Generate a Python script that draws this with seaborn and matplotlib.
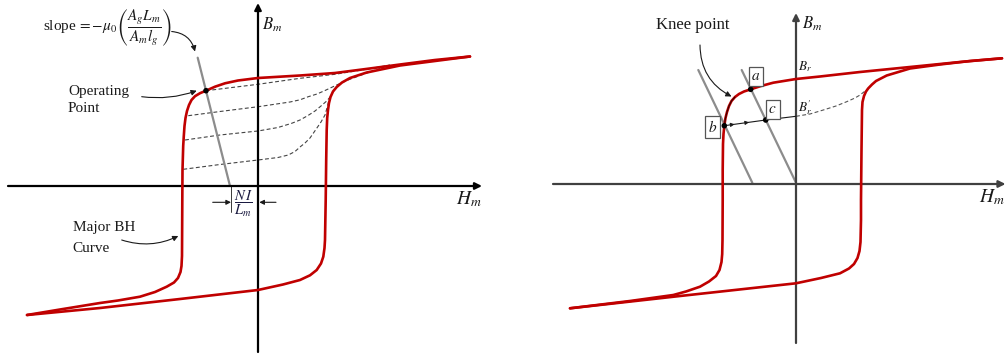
import matplotlib
matplotlib.use("Agg")
import matplotlib.pyplot as plt
import seaborn as sns
import pandas as pd

# ---------------- left panel: operating point on the major BH loop ----------------
left_upper_H = [2.12, 1.77, 1.42, 1.08, 0.77, 0.42, 0.0, -0.20, -0.33, -0.43, -0.52,
                -0.58, -0.63, -0.665, -0.69, -0.71, -0.725, -0.735, -0.742, -0.748,
                -0.755, -0.757, -0.76, -0.765, -0.775, -0.80, -0.84, -0.913, -1.03,
                -1.18, -1.40, -1.58, -1.98, -2.31]
left_upper_B = [1.295, 1.26, 1.215, 1.17, 1.13, 1.105, 1.08, 1.055, 1.027, 0.993, 0.953,
                0.928, 0.898, 0.86, 0.81, 0.75, 0.68, 0.60, 0.50, 0.40,
                0.16, -0.14, -0.70, -0.80, -0.86, -0.92, -0.965, -1.007, -1.06,
                -1.107, -1.145, -1.17, -1.235, -1.29]
left_lower_H = [-2.31, -1.58, -0.78, 0.0, 0.25, 0.42, 0.52, 0.587, 0.63, 0.653, 0.665,
                0.67, 0.677, 0.682, 0.687, 0.692, 0.70, 0.71, 0.725, 0.75, 0.787,
                0.84, 0.92, 1.087, 1.42, 1.77, 2.12]
left_lower_B = [-1.29, -1.22, -1.13, -1.04, -0.985, -0.94, -0.893, -0.84, -0.775, -0.707,
                -0.62, -0.54, -0.14, 0.26, 0.56, 0.68, 0.76, 0.83, 0.89, 0.945, 0.99,
                1.035, 1.08, 1.135, 1.205, 1.25, 1.295]

# recoil lines (dashed)
recoil1_H = [-0.52, 0.0, 0.42, 0.77, 1.07, 1.32]
recoil1_B = [0.953, 1.017, 1.077, 1.117, 1.165, 1.21]
recoil2_H = [-0.697, -0.38, 0.003, 0.32, 0.42, 0.503, 0.59, 0.67, 0.787, 0.90, 1.02, 1.22]
recoil2_B = [0.703, 0.745, 0.793, 0.84, 0.862, 0.893, 0.92, 0.955, 1.01, 1.06, 1.105, 1.175]
recoil3_H = [-0.73, -0.38, 0.0, 0.20, 0.337, 0.42, 0.50, 0.57, 0.63, 0.687, 0.73]
recoil3_B = [0.46, 0.51, 0.55, 0.585, 0.627, 0.66, 0.705, 0.75, 0.80, 0.85, 0.90]
recoil4_H = [-0.747, -0.38, 0.0, 0.20, 0.303, 0.37, 0.42, 0.47, 0.52, 0.587, 0.63,
             0.67, 0.69, 0.71]
recoil4_B = [0.167, 0.215, 0.26, 0.285, 0.31, 0.345, 0.39, 0.43, 0.48, 0.577, 0.64,
             0.71, 0.78, 0.86]

# load line through the operating point
load_H = [-0.603, -0.28]
load_B = [1.283, 0.0]
op_H, op_B = -0.52, 0.953
ni_offset_H = -0.27

# ---------------- right panel: knee point and irreversible demagnetisation ----------------
right_upper_H = [2.06, 1.64, 1.04, 0.64, 0.24, 0.0, -0.227, -0.35, -0.453, -0.52, -0.57,
                 -0.61, -0.645, -0.67, -0.69, -0.705, -0.717, -0.725, -0.73, -0.733,
                 -0.733, -0.735, -0.738, -0.745, -0.765, -0.80, -0.87, -0.96, -1.10,
                 -1.227, -1.66, -2.26]
right_upper_B = [1.257, 1.22, 1.16, 1.12, 1.075, 1.05, 1.013, 0.98, 0.947, 0.925, 0.90,
                 0.87, 0.83, 0.78, 0.72, 0.66, 0.583, 0.50, 0.40, 0.14,
                 -0.16, -0.56, -0.70, -0.78, -0.86, -0.92, -0.975, -1.027, -1.075,
                 -1.11, -1.17, -1.243]
right_lower_H = [-2.26, -1.16, 0.0, 0.25, 0.44, 0.53, 0.58, 0.615, 0.635, 0.645, 0.65,
                 0.65, 0.655, 0.66, 0.665, 0.68, 0.70, 0.723, 0.76, 0.80, 0.907, 1.14,
                 1.44, 1.74, 2.06]
right_lower_B = [-1.243, -1.12, -0.993, -0.94, -0.893, -0.845, -0.80, -0.74, -0.67, -0.58,
                 -0.36, -0.16, 0.34, 0.74, 0.82, 0.88, 0.925, 0.957, 0.995, 1.03, 1.085,
                 1.155, 1.195, 1.23, 1.257]
knee_first, knee_last = 11, 16   # stretch of the upper branch from knee to point b

recoil_bc_H = [-0.717, -0.303, 0.0]
recoil_bc_B = [0.583, 0.64, 0.677]
recoil_dash_H = [0.0, 0.14, 0.273, 0.40, 0.507, 0.59, 0.64, 0.685, 0.723]
recoil_dash_B = [0.677, 0.70, 0.74, 0.78, 0.823, 0.86, 0.89, 0.925, 0.957]

loadA_H = [-0.543, 0.0]
loadA_B = [1.14, 0.013]
loadB_H = [-0.977, -0.437]
loadB_B = [1.14, 0.013]

point_names = ["a", "b", "c"]
point_H = [-0.453, -0.717, -0.303]
point_B = [0.947, 0.583, 0.64]

RED = "#C00000"
GREY = "#8C8C8C"
INK = "#1a1a1a"

sns.set_theme(style="white")
plt.rcParams["font.family"] = ["Liberation Serif", "DejaVu Serif"]
plt.rcParams["mathtext.fontset"] = "stix"

fig = plt.figure(figsize=(10.06, 3.54), dpi=100)
ax1 = fig.add_axes([0, 0, 0.5, 1])
ax2 = fig.add_axes([0.5, 0, 0.5, 1])
ax1.set_xlim(-2.58, 2.45)
ax1.set_ylim(-1.68, 1.86)
ax2.set_xlim(-2.93, 2.10)
ax2.set_ylim(-1.70, 1.84)
for ax in (ax1, ax2):
    ax.axis("off")


def curve(ax, H, B, color, lw, ls="-", z=3):
    df = pd.DataFrame({"H": H, "B": B})
    sns.lineplot(data=df, x="H", y="B", sort=False, estimator=None, color=color,
                 lw=lw, linestyle=ls, ax=ax, zorder=z, legend=False,
                 solid_joinstyle="round", dash_joinstyle="round")


def arrow(ax, start, end, color=INK, lw=0.8, rad=0.0, head=8):
    ax.annotate("", xy=end, xytext=start,
                arrowprops=dict(arrowstyle="-|>", color=color, lw=lw,
                                mutation_scale=head, shrinkA=0, shrinkB=0,
                                connectionstyle=f"arc3,rad={rad}"))


def dot(ax, H, B, size=16):
    sns.scatterplot(x=H if isinstance(H, list) else [H],
                    y=B if isinstance(B, list) else [B],
                    s=size, color="black", edgecolor="none", ax=ax, zorder=6,
                    legend=False)


# ---- left panel ----
arrow(ax1, (-2.50, 0.0), (2.24, 0.0), color="black", lw=1.6, head=10)
arrow(ax1, (0.0, -1.66), (0.0, 1.83), color="black", lw=1.6, head=10)

dash = (0, (3.5, 2.2))
for H, B in [(recoil1_H, recoil1_B), (recoil2_H, recoil2_B),
             (recoil3_H, recoil3_B), (recoil4_H, recoil4_B)]:
    curve(ax1, H, B, "#444444", 0.8, ls=dash, z=2)

curve(ax1, load_H, load_B, GREY, 1.6, z=2)
curve(ax1, left_upper_H, left_upper_B, RED, 1.9, z=4)
curve(ax1, left_lower_H, left_lower_B, RED, 1.9, z=4)
dot(ax1, op_H, op_B)

ax1.text(0.045, 1.61, r"$B_m$", fontsize=12, color=INK, va="center", ha="left")
ax1.text(1.985, -0.13, r"$H_m$", fontsize=14, color=INK, va="center", ha="left")

ax1.text(-2.15, 1.58, r"slope$\,=-\mu_0\left(\dfrac{A_g L_m}{A_m l_g}\right)$",
         fontsize=11, color=INK, va="center", ha="left")
arrow(ax1, (-0.863, 1.545), (-0.63, 1.345), rad=-0.35)

ax1.text(-1.90, 0.86, "Operating\nPoint", fontsize=11, color=INK, va="center",
         ha="left", linespacing=1.5)
arrow(ax1, (-1.163, 0.893), (-0.613, 0.953), rad=0.12)

ax1.text(-1.853, -0.52, "Major BH\nCurve", fontsize=11, color=INK, va="center",
         ha="left", linespacing=1.75)
arrow(ax1, (-1.363, -0.54), (-0.797, -0.50), rad=0.2)

# NI / L_m offset dimension
ax1.plot([ni_offset_H, ni_offset_H], [0.0, -0.26], color=INK, lw=0.6, zorder=2)
ax1.text(-0.147, -0.18, r"$\dfrac{N\,I}{L_m}$", fontsize=10.5, color="#1a1a40",
         va="center", ha="center")
arrow(ax1, (-0.453, -0.163), (ni_offset_H, -0.163), lw=0.8, head=7)
arrow(ax1, (0.18, -0.163), (0.013, -0.163), lw=0.8, head=7)

# ---- right panel ----
AX2 = "#404040"
arrow(ax2, (-2.43, 0.0), (2.095, 0.0), color=AX2, lw=1.6, head=10)
arrow(ax2, (0.0, -1.59), (0.0, 1.71), color=AX2, lw=1.6, head=10)

curve(ax2, loadA_H, loadA_B, GREY, 1.6, z=2)
curve(ax2, loadB_H, loadB_B, GREY, 1.6, z=2)
curve(ax2, recoil_dash_H, recoil_dash_B, "#555555", 0.8, ls=dash, z=2)
curve(ax2, right_upper_H, right_upper_B, RED, 1.9, z=4)
curve(ax2, right_lower_H, right_lower_B, RED, 1.9, z=4)
curve(ax2, right_upper_H[knee_first:knee_last + 1], right_upper_B[knee_first:knee_last + 1],
      "#3a0000", 0.8, z=5)
curve(ax2, recoil_bc_H, recoil_bc_B, INK, 0.8, z=5)

# direction marks along b -> c
for frac in (0.2, 0.55):
    h0 = recoil_bc_H[0] + frac * (recoil_bc_H[1] - recoil_bc_H[0])
    b0 = recoil_bc_B[0] + frac * (recoil_bc_B[1] - recoil_bc_B[0])
    h1 = h0 + 0.02
    b1 = b0 + 0.02 * (recoil_bc_B[1] - recoil_bc_B[0]) / (recoil_bc_H[1] - recoil_bc_H[0])
    arrow(ax2, (h0, b0), (h1, b1), lw=0.6, head=6)

dot(ax2, point_H, point_B)

box = dict(boxstyle="square,pad=0.18", fc="white", ec="#555555", lw=0.9)
label_pos = {"a": (-0.40, 1.073), "b": (-0.838, 0.57), "c": (-0.233, 0.743)}
for name in point_names:
    x, y = label_pos[name]
    ax2.text(x, y, f"${name}$", fontsize=11, color=INK, ha="center", va="center",
             bbox=box, zorder=7)

ax2.text(0.06, 1.60, r"$B_m$", fontsize=12, color=INK, va="center", ha="left")
ax2.text(2.09, -0.13, r"$H_m$", fontsize=14, color=INK, va="center", ha="right")
ax2.text(0.02, 1.17, r"$B_r$", fontsize=9.5, color=INK, va="center", ha="left")
ax2.text(0.02, 0.76, r"$B_r^{\prime}$", fontsize=9.5, color=INK, va="center", ha="left")

ax2.text(-1.40, 1.59, "Knee point", fontsize=12, color=INK, va="center", ha="left")
arrow(ax2, (-0.96, 1.39), (-0.645, 0.875), rad=0.3)

fig.savefig("out.png", dpi=100)
